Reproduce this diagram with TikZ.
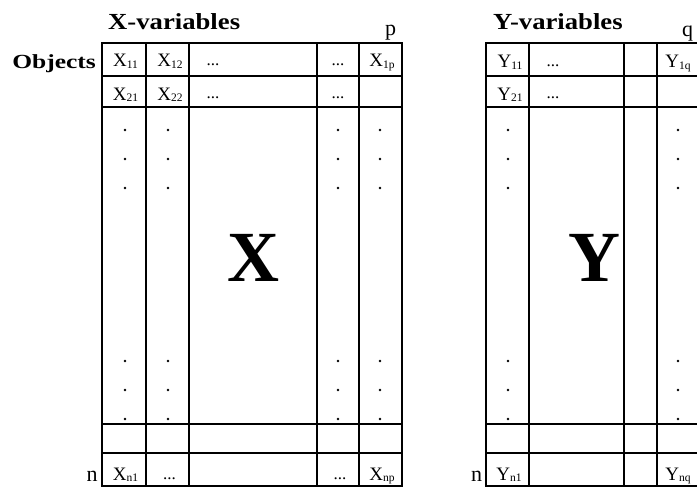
\documentclass[tikz,border=0pt]{standalone}
\usepackage{fontspec}
\setmainfont{Liberation Serif}
\newcommand\sbs[1]{\raisebox{-1.5pt}{\fontsize{11.5}{11.5}\selectfont #1}}
\begin{document}
\begin{tikzpicture}[x=1pt,y=-1pt,
  gridline/.style={line width=1.8pt},
  head/.style={font=\fontsize{23}{23}\selectfont\bfseries, inner sep=0pt, anchor=base west, xscale=1.16, transform shape},
  cell/.style={font=\fontsize{19}{19}\selectfont, inner sep=0pt, anchor=base},
  ell/.style={font=\fontsize{17}{17}\selectfont, inner sep=0pt, anchor=base},
  idx/.style={font=\fontsize{22}{22}\selectfont, inner sep=0pt, anchor=base west},
  big/.style={font=\fontsize{72}{72}\selectfont\bfseries, inner sep=0pt},
  vdot/.style={circle, fill=black, inner sep=0pt, minimum size=2.8pt}]
\useasboundingbox (0,0) rectangle (697,487);
% X matrix grid
\draw[gridline] (102,43) rectangle (402,486);
\foreach \x in {146,189,317,359} \draw[gridline] (\x,43) -- (\x,486);
\foreach \y in {76,107,424,453} \draw[gridline] (102,\y) -- (402,\y);
% Y matrix grid
\draw[gridline] (486,43) rectangle (700,486);
\foreach \x in {529,624,657} \draw[gridline] (\x,43) -- (\x,486);
\foreach \y in {76,107,424,453} \draw[gridline] (486,\y) -- (700,\y);
% headings
\node[head] (xh) at (108,29.3) {X-variables};
\node[head] (yh) at (493,29.3) {Y-variables};
\node[head, font=\fontsize{20}{20}\selectfont\bfseries, xscale=1.1] (obj) at (12,68.3) {Objects};
\node[idx] (p) at (385,36) {p};
\node[idx] (q) at (682,37) {q};
\node[idx] (nx) at (86.5,481) {n};
\node[idx] (ny) at (471,481) {n};
% X cells
\node[cell] (x11) at (125.5,67) {X\sbs{11}};
\node[cell] (x12) at (170,67) {X\sbs{12}};
\node[ell] (x13) at (213,66) {...};
\node[ell] (x14) at (338,66) {...};
\node[cell] (x1p) at (382,67) {X\sbs{1p}};
\node[cell] (x21) at (125.5,100) {X\sbs{21}};
\node[cell] (x22) at (170,100) {X\sbs{22}};
\node[ell] (x23) at (213,99) {...};
\node[ell] (x24) at (338,99) {...};
\node[cell] (xn1) at (125.5,480) {X\sbs{n1}};
\node[ell] (xn2) at (169.5,479) {...};
\node[ell] (xn4) at (340,479) {...};
\node[cell] (xnp) at (382,480) {X\sbs{np}};
% Y cells
\node[cell] (y11) at (510,68) {Y\sbs{11}};
\node[ell] (y12) at (553,67) {...};
\node[cell] (y1q) at (678,68) {Y\sbs{1q}};
\node[cell] (y21) at (510,100) {Y\sbs{21}};
\node[ell] (y22) at (553,99) {...};
\node[cell] (yn1) at (509,480) {Y\sbs{n1}};
\node[cell] (ynq) at (678,480) {Y\sbs{nq}};
% vertical dots
\foreach \x in {125,168,338,380,508,678}
  \foreach \y in {130,159,188,361,390,419}
    \node[vdot] at (\x,\y) {};
% big letters
\node[big] (bx) at (253.7,258) {X};
\node[big] (by) at (594,258) {Y};
\end{tikzpicture}
\end{document}
